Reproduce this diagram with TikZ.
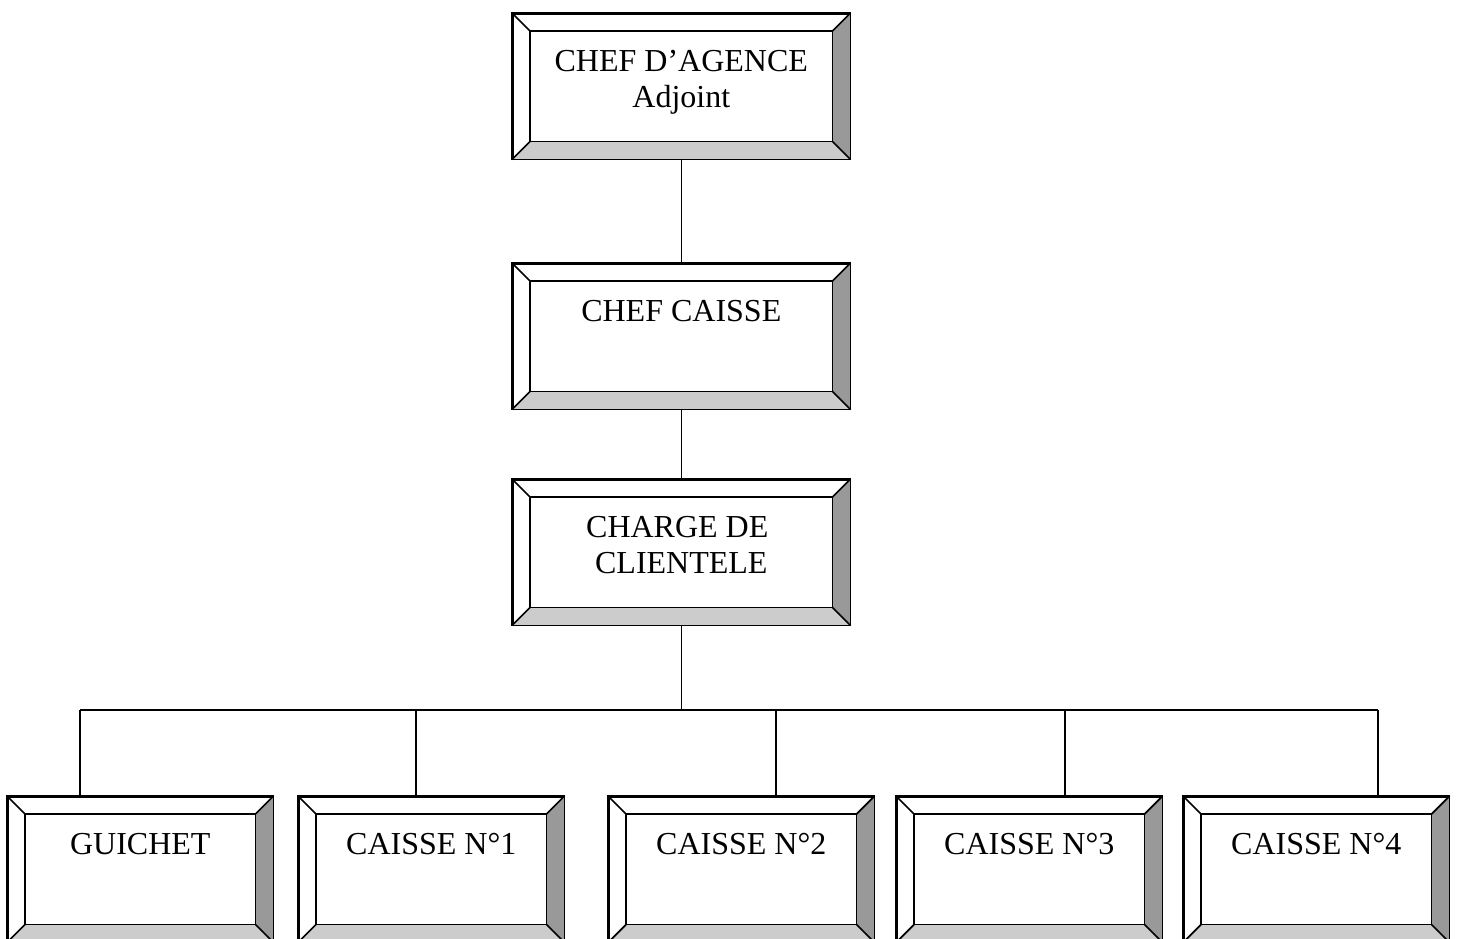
\documentclass[tikz,border=0pt]{standalone}
\usepackage{fontspec}
\setmainfont{Liberation Serif}
\definecolor{bevdark}{HTML}{999999}
\definecolor{bevlight}{HTML}{CCCCCC}
\tikzset{
  bevbox/.style={draw, line width=1.6pt, minimum width=337pt, minimum height=145pt,
    inner sep=0pt, anchor=north west, fill=white},
  smallbox/.style={bevbox, minimum width=265pt},
  lbl/.style={font=\fontsize{32}{36}\selectfont, inner sep=0pt, anchor=base},
  conn/.style={line width=1.3pt}
}
\newcommand\bevel[1]{%
  \fill[bevdark] (#1.north east) -- (#1.south east) -- ([shift={(-18,-18)}]#1.south east) -- ([shift={(-18,18)}]#1.north east) -- cycle;
  \fill[bevlight] (#1.south west) -- (#1.south east) -- ([shift={(-18,-18)}]#1.south east) -- ([shift={(18,-18)}]#1.south west) -- cycle;
  \draw[line width=1.6pt] ([shift={(18,18)}]#1.north west) rectangle ([shift={(-18,-18)}]#1.south east);
  \draw[line width=1.6pt] (#1.north west) -- ([shift={(18,18)}]#1.north west)
    (#1.north east) -- ([shift={(-18,18)}]#1.north east)
    (#1.south west) -- ([shift={(18,-18)}]#1.south west)
    (#1.south east) -- ([shift={(-18,-18)}]#1.south east);
  \draw[line width=1.6pt] (#1.north west) rectangle (#1.south east);
}
\begin{document}
\begin{tikzpicture}[x=1pt,y=-1pt]
\useasboundingbox (0,0) rectangle (1457,938);
% boxes
\node[bevbox] (b1) at (512,13) {};
\node[bevbox] (b2) at (512,263) {};
\node[bevbox] (b3) at (512,479) {};
\node[smallbox] (g) at (7,796) {};
\node[smallbox] (c1) at (298,796) {};
\node[smallbox] (c2) at (608,796) {};
\node[smallbox] (c3) at (896,796) {};
\node[smallbox] (c4) at (1183,796) {};
\foreach \n in {b1,b2,b3,g,c1,c2,c3,c4} {\bevel{\n}}
% labels
\node[lbl] (t1a) at ([shift={(0,58)}]b1.north) {CHEF D’AGENCE};
\node[lbl] (t1b) at ([shift={(0,94)}]b1.north) {Adjoint};
\node[lbl] (t2) at ([shift={(0,58)}]b2.north) {CHEF CAISSE};
\node[lbl] (t3a) at ([shift={(-4,58)}]b3.north) {CHARGE DE};
\node[lbl] (t3b) at ([shift={(0,94)}]b3.north) {CLIENTELE};
\node[lbl] (tg) at ([shift={(0,58)}]g.north) {GUICHET};
\node[lbl] (tc1) at ([shift={(0,58)}]c1.north) {CAISSE N°1};
\node[lbl] (tc2) at ([shift={(0,58)}]c2.north) {CAISSE N°2};
\node[lbl] (tc3) at ([shift={(0,58)}]c3.north) {CAISSE N°3};
\node[lbl] (tc4) at ([shift={(0,58)}]c4.north) {CAISSE N°4};
% connectors
\coordinate (bus) at (b3.south |- 0,710);
\coordinate (d0) at (80,710);
\coordinate (d1) at (416,710);
\coordinate (d2) at (776,710);
\coordinate (d3) at (1065,710);
\coordinate (d4) at (1378,710);
\draw[conn] (b1.south) -- (b2.north);
\draw[conn] (b2.south) -- (b3.north);
\draw[conn] (b3.south) -- (bus);
\draw[conn] (d0) -- (d4);
\draw[conn] (d0) -- (d0 |- g.north);
\draw[conn] (d1) -- (d1 |- c1.north);
\draw[conn] (d2) -- (d2 |- c2.north);
\draw[conn] (d3) -- (d3 |- c3.north);
\draw[conn] (d4) -- (d4 |- c4.north);
\end{tikzpicture}
\end{document}
